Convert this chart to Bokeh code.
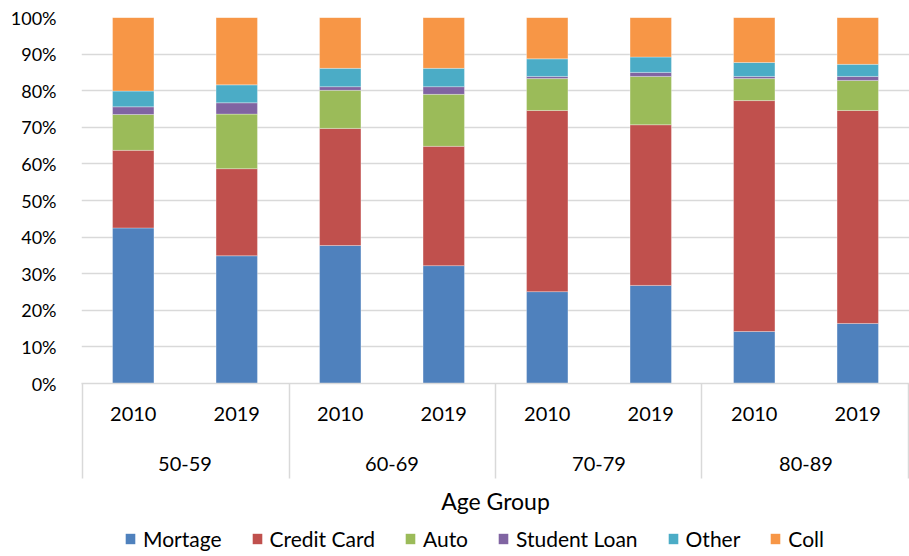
from bokeh.plotting import figure
from bokeh.layouts import column
from bokeh.models import (FactorRange, Range1d, ColumnDataSource, Legend, LegendItem,
                          PrintfTickFormatter, FixedTicker, CategoricalAxis)
from bokeh.embed import file_html
from bokeh.resources import INLINE

# ---- data (shares in percent) ----
age_groups = ["50-59", "60-69", "70-79", "80-89"]
years = ["2010", "2019"]
series_names = ["Mortage", "Credit Card", "Auto", "Student Loan", "Other", "Coll"]
mortgage = [42.5, 34.9, 37.7, 32.2, 25.1, 26.8, 14.2, 16.4]
credit_card = [21.2, 23.8, 32.0, 32.6, 49.5, 43.9, 63.1, 58.2]
auto = [9.8, 14.9, 10.4, 14.2, 8.7, 13.2, 6.0, 8.2]
student_loan = [2.1, 3.1, 1.0, 2.1, 0.6, 1.1, 0.6, 1.1]
other = [4.3, 4.9, 5.0, 5.0, 4.8, 4.2, 3.8, 3.3]
coll = [20.1, 18.4, 13.9, 13.9, 11.3, 10.8, 12.3, 12.8]
y_ticks = [0, 10, 20, 30, 40, 50, 60, 70, 80, 90, 100]

colors = ["#4F81BD", "#C0504D", "#9BBB59", "#8064A2", "#4BACC6", "#F79646"]
FONT = "Lato"
GRID = "#d9d9d9"

factors = [(g, y) for g in age_groups for y in years]
keys = ["mortgage", "credit", "auto", "student", "other", "coll"]
source = ColumnDataSource(dict(x=factors, mortgage=mortgage, credit=credit_card, auto=auto,
                               student=student_loan, other=other, coll=coll))

# boundaries between age groups (used only for the separator ticks)
boundaries = ["b%d" % i for i in range(len(age_groups) + 1)]

x_range = FactorRange(*factors, group_padding=0, factor_padding=0, range_padding=0)
p = figure(x_range=x_range, y_range=Range1d(0, 100), width=909, height=520,
           output_backend="svg", toolbar_location=None,
           min_border_left=81, min_border_right=0, min_border_top=17, min_border_bottom=137)
p.extra_x_ranges = {
    "grp": FactorRange(*age_groups, factor_padding=0, range_padding=0),
    "sep": FactorRange(*boundaries, factor_padding=0, range_padding=-0.495,
                       range_padding_units="absolute"),
}

p.vbar_stack(keys, x="x", width=0.4, source=source, color=colors,
             line_color="white", line_width=0.6, line_alpha=0.5)

p.outline_line_color = None
p.xgrid.grid_line_color = None
p.ygrid.grid_line_color = GRID
p.ygrid.grid_line_width = 1.5
p.ygrid.ticker = FixedTicker(ticks=y_ticks)

ya = p.yaxis[0]
ya.ticker = FixedTicker(ticks=y_ticks)
ya.formatter = PrintfTickFormatter(format="%d%%")
ya.axis_line_color = None
ya.major_tick_line_color = None
ya.minor_tick_line_color = None
ya.major_label_standoff = 19
ya.major_label_text_font = FONT
ya.major_label_text_font_size = "18px"
ya.major_label_text_color = "#000000"

# level 1: years
xa = p.xaxis[0]
xa.axis_line_color = GRID
xa.axis_line_width = 1.5
xa.major_tick_line_color = None
xa.minor_tick_line_color = None
xa.separator_line_color = None
xa.major_label_standoff = 17
xa.major_label_text_font = FONT
xa.major_label_text_font_size = "20px"
xa.major_label_text_color = "#000000"
xa.group_text_color = None

# level 2: age groups
ga = CategoricalAxis(x_range_name="grp", axis_line_color=None,
                     major_tick_line_color=None, minor_tick_line_color=None,
                     major_label_standoff=27, major_label_text_font=FONT,
                     major_label_text_font_size="20px", major_label_text_color="#000000")
p.add_layout(ga, "below")

# group separators + axis title
sa = CategoricalAxis(x_range_name="sep", axis_line_color=None,
                     major_tick_in=90, major_tick_out=5,
                     major_tick_line_color=GRID, major_tick_line_width=1.5,
                     minor_tick_line_color=None, major_label_text_color=None,
                     axis_label="Age Group", axis_label_standoff=8,
                     axis_label_text_font=FONT, axis_label_text_font_size="23px",
                     axis_label_text_font_style="normal", axis_label_text_color="#000000")
p.add_layout(sa, "below")

# legend strip below the chart (its bars lie outside its own y range, only the legend shows)
pl = figure(x_range=FactorRange(*factors), y_range=Range1d(101, 102), width=909, height=36,
            output_backend="svg", toolbar_location=None,
            x_axis_type=None, y_axis_type=None,
            min_border_left=81, min_border_right=0, min_border_top=0, min_border_bottom=0)
pl.outline_line_color = None
pl.grid.visible = False
swatches = pl.vbar_stack(keys, x="x", width=0.4, source=source, color=colors,
                         line_color=None)
items = [LegendItem(label=n, renderers=[r]) for n, r in zip(series_names, swatches)]
legend = Legend(items=items, orientation="horizontal", location=(43, 5),
                label_text_font=FONT, label_text_font_size="21px", label_text_color="#000000",
                glyph_width=12, glyph_height=13, label_standoff=7, spacing=29,
                padding=0, margin=0, border_line_color=None, background_fill_alpha=0)
pl.add_layout(legend)

open("out.html", "w").write(file_html(column(p, pl, spacing=0), INLINE))
